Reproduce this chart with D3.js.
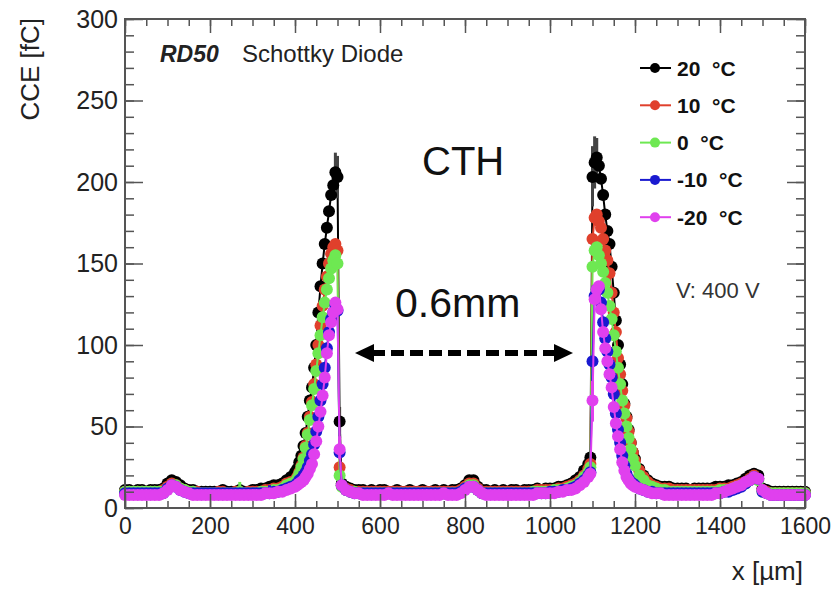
<!DOCTYPE html>
<html>
<head>
<meta charset="utf-8">
<script src="https://cdn.jsdelivr.net/npm/d3@7"></script>
<style>
body { margin: 0; background: #fff; }
svg { display: block; }
text { font-family: "Liberation Sans", Arial, Helvetica, sans-serif; }
</style>
</head>
<body>
<svg id="chart" width="838" height="591"></svg>
<script>
// scan positions in um
var xs = [
	0,10,20,30,40,50,60,70,80,90,
	100,110,120,130,140,150,160,170,180,190,
	200,210,220,230,240,250,260,270,280,290,
	300,310,320,330,340,350,360,370,380,390,
	400,405,410,415,420,425,430,435,440,445,
	450,455,460,465,470,475,480,485,490,495,
	500,505,510,520,530,540,550,560,570,580,
	590,600,610,620,630,640,650,660,670,680,
	690,700,710,720,730,740,750,760,770,780,
	790,800,810,820,830,840,850,860,870,880,
	890,900,910,920,930,940,950,960,970,980,
	990,1000,1010,1020,1030,1040,1050,1060,1070,1080,
	1090,1095,1100,1105,1110,1115,1120,1125,1130,1135,
	1140,1145,1150,1155,1160,1165,1170,1175,1180,1185,
	1190,1195,1200,1210,1220,1230,1240,1250,1260,1270,
	1280,1290,1300,1310,1320,1330,1340,1350,1360,1370,
	1380,1390,1400,1410,1420,1430,1440,1450,1460,1470,
	1480,1490,1500,1510,1520,1530,1540,1550,1560,1570,
	1580,1590,1600
];

// CCE in fC, one row per line of xs
var cce20 = [
	11,11,10,11,11,10,11,11,11,12,
	15,17,16,14,12,11,11,10,10,10,
	10,10,10,11,10,10,10,11,10,10,
	11,11,12,12,13,14,14,15,17,19,
	22,24,28,32,38,46,56,66,74,86,
	100,120,136,150,162,172,182,192,198,206,
	203,53,15,13,12,11,11,11,10,11,
	10,11,11,10,10,11,10,10,11,10,
	10,11,10,10,11,10,11,10,11,11,
	12,14,17,17,13,11,11,10,11,10,
	11,10,11,11,10,11,11,11,12,11,
	12,12,12,13,13,14,15,17,19,23,
	27,31,203,212,215,210,202,192,180,170,
	162,148,132,115,100,88,76,64,56,48,
	40,34,30,24,20,17,15,14,13,13,
	13,12,12,12,12,11,12,12,12,12,
	12,13,13,13,14,14,15,16,18,20,
	21,20,12,11,10,10,10,10,10,10,
	10,10,10
];
var cce10 = [
	10,10,10,10,10,10,10,10,10,11,
	13,15,14,12,11,10,10,10,9,9,
	9,9,10,10,9,9,10,10,9,10,
	10,10,10,11,11,12,12,13,15,16,
	17,19,22,26,31,38,46,56,65,76,
	88,100,112,124,134,142,150,156,160,162,
	158,25,14,12,11,10,10,10,10,10,
	10,10,10,10,10,10,10,10,10,10,
	10,10,10,10,10,10,10,10,10,10,
	11,13,15,15,12,10,10,10,10,10,
	10,10,10,10,10,10,10,10,11,11,
	11,11,11,12,12,13,14,15,17,20,
	24,27,165,178,180,176,172,165,158,152,
	144,132,120,108,92,82,72,63,55,47,
	40,34,29,23,19,16,14,13,12,12,
	12,11,11,11,11,11,11,11,11,11,
	11,11,12,12,12,13,14,15,16,18,
	20,18,11,10,9,9,9,9,9,9,
	9,9,9
];
var cce0 = [
	10,10,10,10,10,10,10,10,10,10,
	12,14,14,12,11,10,10,9,9,9,
	9,9,9,9,9,9,9,10,9,9,
	9,9,10,10,10,11,11,12,14,15,
	16,18,21,25,30,37,45,54,63,73,
	84,95,106,117,126,134,141,147,152,155,
	150,20,13,11,10,10,9,9,9,9,
	9,9,9,9,9,9,9,9,9,9,
	9,9,9,9,9,9,9,9,9,9,
	10,12,14,14,11,9,9,9,9,9,
	9,9,9,9,9,9,9,10,10,10,
	10,10,11,11,11,12,13,14,16,19,
	22,25,148,158,160,155,150,145,138,132,
	124,116,106,96,86,76,66,58,50,43,
	36,30,26,20,17,14,13,12,11,11,
	10,10,10,10,10,10,10,10,10,10,
	10,10,11,11,11,12,13,14,15,17,
	19,17,10,9,9,9,9,9,9,9,
	9,9,9
];
var cceM10 = [
	9,9,9,9,9,9,9,9,9,9,
	12,14,13,11,10,9,9,9,9,9,
	9,9,9,9,9,9,9,9,9,9,
	9,9,9,9,9,10,10,11,12,13,
	14,15,17,18,20,22,25,29,33,39,
	47,56,66,76,86,98,108,116,120,124,
	121,34,14,11,10,9,9,9,9,9,
	9,9,9,9,9,9,9,9,9,9,
	9,9,9,9,9,9,9,9,9,9,
	10,12,13,13,11,9,9,9,9,9,
	9,9,9,9,9,9,9,9,9,9,
	9,10,10,10,11,11,12,13,15,17,
	20,22,90,130,134,134,126,114,104,96,
	88,80,70,58,48,40,32,26,21,18,
	16,15,14,12,11,10,10,9,9,9,
	9,9,9,9,9,9,9,9,9,9,
	9,9,9,10,10,11,12,13,15,17,
	19,18,10,9,8,8,8,8,8,8,
	8,8,8
];
var cceM20 = [
	8,8,8,8,8,8,8,8,8,9,
	11,14,13,11,10,9,8,8,8,8,
	8,8,8,8,8,8,8,8,8,8,
	8,8,8,9,9,9,10,10,11,12,
	13,14,15,16,17,19,21,24,27,33,
	41,50,59,69,80,95,106,114,120,126,
	122,36,14,11,10,9,9,8,8,8,
	8,8,8,9,8,8,8,8,8,8,
	8,8,8,8,8,8,9,8,8,8,
	9,11,13,13,11,9,8,8,8,8,
	8,8,8,8,8,8,8,8,9,9,
	9,9,9,10,10,11,11,12,14,16,
	19,21,66,128,134,136,122,108,98,90,
	82,74,62,52,44,36,28,23,19,17,
	15,14,13,12,11,10,9,9,9,8,
	8,8,8,8,8,8,8,8,8,8,
	8,9,9,10,11,12,13,14,16,17,
	19,18,11,9,8,8,8,8,8,8,
	8,8,8
];

// the error bars that stick out of the markers
var errorBars = [
	{ s: 0, x: 490, lo: 190, hi: 208 },
	{ s: 0, x: 495, lo: 196, hi: 218 },
	{ s: 0, x: 500, lo: 190, hi: 216 },
	{ s: 0, x: 505, lo: 43, hi: 62 },
	{ s: 0, x: 1100, lo: 185, hi: 222 },
	{ s: 0, x: 1105, lo: 196, hi: 228 },
	{ s: 0, x: 1110, lo: 200, hi: 227 },
	{ s: 2, x: 270, lo: 7, hi: 16 },
	{ s: 3, x: 340, lo: 7, hi: 14 },
	{ s: 4, x: 505, lo: 30, hi: 44 },
	{ s: 4, x: 1100, lo: 53, hi: 78 }
];

var legendLabels = ["20  \u00B0C", "10  \u00B0C", "0  \u00B0C", "-10  \u00B0C", "-20  \u00B0C"];
var colors = ["#000000", "#e0402c", "#6ee852", "#1a1ad0", "#e040ee"];
var xTicks = [0, 200, 400, 600, 800, 1000, 1200, 1400, 1600];
var yTicks = [0, 50, 100, 150, 200, 250, 300];

var allValues = [cce20, cce10, cce0, cceM10, cceM20];
var series = allValues.map(function(vals, i) {
	return {
		label: legendLabels[i],
		color: colors[i],
		points: xs.map(function(xv, j) { return { x: xv, y: vals[j] }; })
	};
});

var svg = d3.select("#chart");
svg.append("rect").attr("width", 838).attr("height", 591).attr("fill", "#fff");

var x = d3.scaleLinear().domain([0, 1600]).range([125, 805]);
var y = d3.scaleLinear().domain([0, 300]).range([508, 19]);

// data first, frame on top
var plot = svg.append("g");
series.forEach(function(s, i) {
	var g = plot.append("g");
	g.append("path")
		.datum(s.points)
		.attr("fill", "none")
		.attr("stroke", s.color)
		.attr("stroke-width", 2)
		.attr("d", d3.line().x(function(d) { return x(d.x); }).y(function(d) { return y(d.y); }));
	g.selectAll("line.err")
		.data(errorBars.filter(function(e) { return e.s === i; }))
		.enter().append("line")
		.attr("class", "err")
		.attr("x1", function(d) { return x(d.x); })
		.attr("x2", function(d) { return x(d.x); })
		.attr("y1", function(d) { return y(d.lo); })
		.attr("y2", function(d) { return y(d.hi); })
		.attr("stroke", i === 0 ? "#444" : s.color)
		.attr("stroke-width", 3);
	g.selectAll("circle")
		.data(s.points)
		.enter().append("circle")
		.attr("cx", function(d) { return x(d.x); })
		.attr("cy", function(d) { return y(d.y); })
		.attr("r", 6)
		.attr("fill", s.color);
});

// axes
function styleAxis(g) {
	g.select(".domain").remove();
	g.selectAll(".tick line").attr("stroke", "#555").attr("stroke-width", 1.5);
	g.selectAll(".tick text").attr("fill", "#222");
}
svg.append("g").attr("transform", "translate(0,508)")
	.call(d3.axisBottom(x).tickValues(x.ticks(32)).tickSize(-7).tickFormat(""))
	.call(styleAxis);
svg.append("g").attr("transform", "translate(0,508)")
	.call(d3.axisBottom(x).tickValues(xTicks).tickSize(-14).tickPadding(10).tickFormat(d3.format("d")))
	.call(styleAxis)
	.selectAll(".tick text").attr("font-size", 23);
svg.append("g").attr("transform", "translate(0,19)")
	.call(d3.axisTop(x).tickValues(x.ticks(32)).tickSize(-7).tickFormat(""))
	.call(styleAxis);
svg.append("g").attr("transform", "translate(0,19)")
	.call(d3.axisTop(x).tickValues(xTicks).tickSize(-14).tickFormat(""))
	.call(styleAxis);
svg.append("g").attr("transform", "translate(125,0)")
	.call(d3.axisLeft(y).tickValues(y.ticks(30)).tickSize(-9).tickFormat(""))
	.call(styleAxis);
svg.append("g").attr("transform", "translate(125,0)")
	.call(d3.axisLeft(y).tickValues(yTicks).tickSize(-18).tickPadding(7).tickFormat(d3.format("d")))
	.call(styleAxis)
	.selectAll(".tick text").attr("font-size", 25);
svg.append("g").attr("transform", "translate(805,0)")
	.call(d3.axisRight(y).tickValues(y.ticks(30)).tickSize(-9).tickFormat(""))
	.call(styleAxis);
svg.append("g").attr("transform", "translate(805,0)")
	.call(d3.axisRight(y).tickValues(yTicks).tickSize(-18).tickFormat(""))
	.call(styleAxis);

svg.append("rect")
	.attr("x", 125).attr("y", 19).attr("width", 680).attr("height", 489)
	.attr("fill", "none").attr("stroke", "#555").attr("stroke-width", 2);

// axis titles
svg.append("text")
	.attr("transform", "translate(39,18) rotate(-90)")
	.attr("text-anchor", "end")
	.attr("font-size", 26)
	.attr("fill", "#222")
	.text("CCE [fC]");
svg.append("text")
	.attr("x", 803).attr("y", 580)
	.attr("text-anchor", "end")
	.attr("font-size", 26)
	.attr("fill", "#222")
	.text("x [\u00B5m]");

// header
svg.append("text")
	.attr("x", 160).attr("y", 62)
	.attr("font-size", 23).attr("font-weight", "bold").attr("font-style", "italic")
	.attr("fill", "#222")
	.text("RD50");
svg.append("text")
	.attr("x", 242).attr("y", 62)
	.attr("font-size", 24).attr("fill", "#222")
	.text("Schottky Diode");
svg.append("text")
	.attr("x", 676).attr("y", 298)
	.attr("font-size", 22).attr("fill", "#333")
	.text("V: 400 V");

// legend
var legend = svg.append("g");
series.forEach(function(s, i) {
	var ly = 68 + i * 37.3;
	legend.append("line")
		.attr("x1", 640).attr("x2", 671).attr("y1", ly).attr("y2", ly)
		.attr("stroke", s.color).attr("stroke-width", 2);
	legend.append("circle")
		.attr("cx", 655).attr("cy", ly).attr("r", 5).attr("fill", s.color);
	legend.append("text")
		.attr("x", 677).attr("y", ly + 7.5)
		.attr("font-size", 21).attr("font-weight", "bold")
		.style("white-space", "pre")
		.attr("fill", "#111")
		.text(s.label);
});

// annotations
svg.append("text")
	.attr("x", 422).attr("y", 175)
	.attr("font-family", "'Noto Sans', 'Open Sans', sans-serif")
	.attr("font-size", 40).attr("fill", "#111")
	.text("CTH");
svg.append("text")
	.attr("x", 395).attr("y", 317)
	.attr("font-family", "'Noto Sans', 'Open Sans', sans-serif")
	.attr("font-size", 41).attr("fill", "#111")
	.text("0.6mm");

var arrowY = 353;
svg.append("line")
	.attr("x1", 372).attr("x2", 556).attr("y1", arrowY).attr("y2", arrowY)
	.attr("stroke", "#000").attr("stroke-width", 6)
	.attr("stroke-dasharray", "13,6");
svg.append("path")
	.attr("d", "M355," + arrowY + "L374," + (arrowY - 9) + "L374," + (arrowY + 9) + "Z")
	.attr("fill", "#000");
svg.append("path")
	.attr("d", "M573," + arrowY + "L554," + (arrowY - 9) + "L554," + (arrowY + 9) + "Z")
	.attr("fill", "#000");
</script>
</body>
</html>
